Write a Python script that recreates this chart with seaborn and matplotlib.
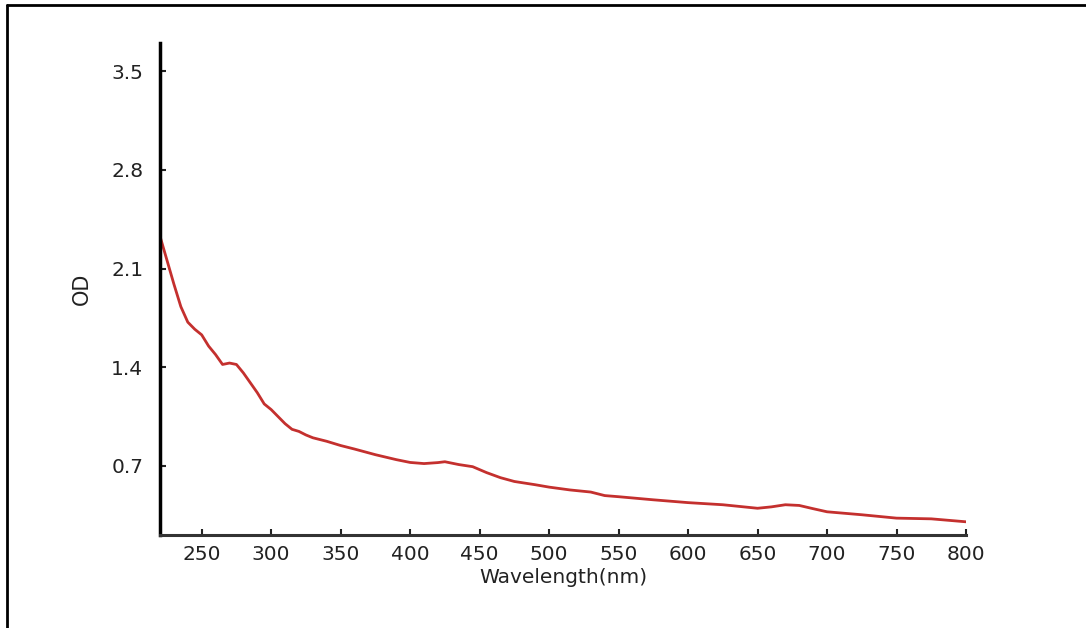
import matplotlib
matplotlib.use("Agg")
import matplotlib.pyplot as plt
from matplotlib.lines import Line2D
import seaborn as sns
import pandas as pd

wavelength = [220, 225, 230, 235, 240, 245, 250, 255, 260, 265, 270, 275, 280, 285,
              290, 295, 300, 305, 310, 315, 320, 325, 330, 340, 350, 360, 375, 390,
              400, 410, 420, 425, 435, 445, 455, 465, 475, 490, 500, 515, 530, 540,
              550, 575, 600, 625, 650, 660, 670, 680, 690, 700, 725, 750, 775, 800]
od = [2.33, 2.16, 1.99, 1.83, 1.72, 1.67, 1.63, 1.55, 1.49, 1.42, 1.43, 1.42, 1.36, 1.29,
      1.22, 1.14, 1.10, 1.05, 1.00, 0.96, 0.945, 0.92, 0.90, 0.875, 0.845, 0.82, 0.78, 0.745,
      0.725, 0.717, 0.724, 0.73, 0.71, 0.695, 0.653, 0.617, 0.59, 0.567, 0.55, 0.53, 0.515, 0.49,
      0.482, 0.46, 0.44, 0.425, 0.40, 0.41, 0.425, 0.42, 0.397, 0.375, 0.354, 0.33, 0.325, 0.304]
x_ticks = [250, 300, 350, 400, 450, 500, 550, 600, 650, 700, 750, 800]
y_ticks = [0.7, 1.4, 2.1, 2.8, 3.5]

df = pd.DataFrame({"Wavelength(nm)": wavelength, "OD": od})

sns.set_theme(style="ticks")
plt.rcParams["font.family"] = ["DejaVu Sans"]

fig = plt.figure(figsize=(10.86, 6.28), dpi=100)
ax = fig.add_axes([160/1086, 0.148, (966-160)/1086, 0.7835])

sns.lineplot(data=df, x="Wavelength(nm)", y="OD", ax=ax, color="#c4302e", linewidth=2.0)

ax.set_xlim(220, 800)
ax.set_ylim(0.21, 3.70)
ax.set_xticks(x_ticks)
ax.set_yticks(y_ticks)
ax.set_yticklabels([f"{v:.1f}" for v in y_ticks])

for s in ["top", "right"]:
    ax.spines[s].set_visible(False)
ax.spines["left"].set_linewidth(2.5)
ax.spines["left"].set_color("black")
ax.spines["bottom"].set_linewidth(2.2)
ax.spines["bottom"].set_color("#333333")

ax.tick_params(axis="both", direction="in", length=4, width=1.5, color="#222222",
               labelsize=14.5, labelcolor="#222222")
ax.tick_params(axis="x", pad=7)
ax.tick_params(axis="y", pad=12)
ax.set_xlabel("Wavelength(nm)", fontsize=14.5, color="#222222", labelpad=3)
ax.set_ylabel("OD", fontsize=15, color="#222222", labelpad=14)

# outer frame (top and left edges)
fig.add_artist(Line2D([7/1086, 7/1086], [0, 1 - 5/628], transform=fig.transFigure,
                      color="black", linewidth=2))
fig.add_artist(Line2D([7/1086, 1], [1 - 5/628, 1 - 5/628], transform=fig.transFigure,
                      color="black", linewidth=2))

fig.savefig("out.png", dpi=100)
